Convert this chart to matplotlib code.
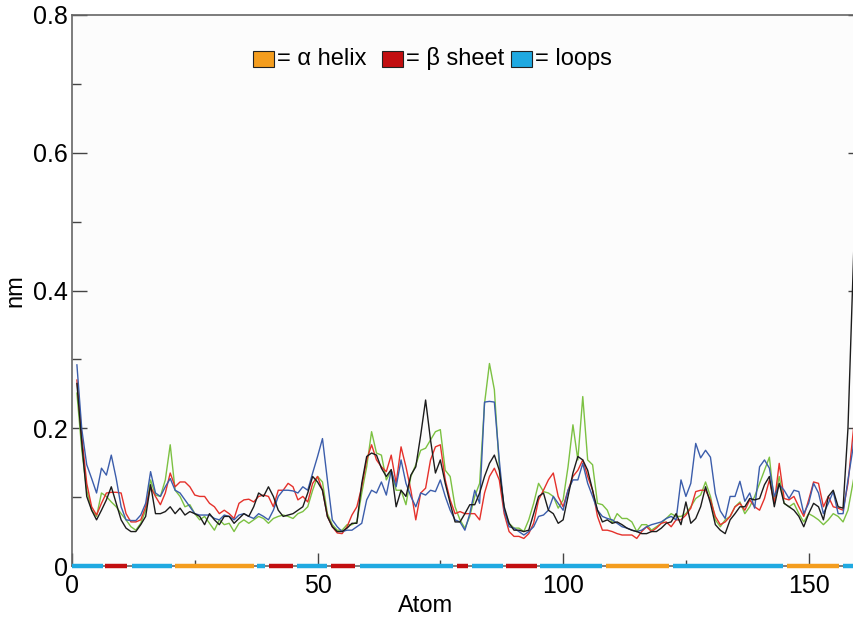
import numpy as np
import matplotlib
matplotlib.use('Agg')
import matplotlib.pyplot as plt
from matplotlib.patches import Rectangle

plt.rcParams['font.family'] = ['Liberation Sans', 'DejaVu Sans']

# residue index (atoms 1..160), fluctuation in nm for four runs
atoms = np.arange(1, 161)

blue_run = [
    0.292, 0.198, 0.147, 0.127, 0.106, 0.142, 0.132, 0.161, 0.127, 0.086,
    0.067, 0.066, 0.066, 0.074, 0.091, 0.137, 0.106, 0.101, 0.115, 0.127,
    0.110, 0.106, 0.096, 0.086, 0.076, 0.074, 0.074, 0.074, 0.069, 0.067,
    0.074, 0.072, 0.067, 0.074, 0.076, 0.072, 0.069, 0.076, 0.072, 0.067,
    0.081, 0.101, 0.110, 0.110, 0.109, 0.106, 0.115, 0.110, 0.135, 0.159,
    0.185, 0.125, 0.067, 0.057, 0.050, 0.052, 0.052, 0.057, 0.062, 0.096,
    0.110, 0.106, 0.122, 0.103, 0.139, 0.115, 0.154, 0.120, 0.101, 0.086,
    0.106, 0.103, 0.110, 0.108, 0.125, 0.101, 0.081, 0.067, 0.064, 0.052,
    0.076, 0.110, 0.091, 0.238, 0.239, 0.238, 0.154, 0.081, 0.057, 0.055,
    0.050, 0.045, 0.050, 0.057, 0.072, 0.074, 0.081, 0.101, 0.091, 0.081,
    0.110, 0.125, 0.125, 0.149, 0.120, 0.101, 0.081, 0.072, 0.069, 0.067,
    0.062, 0.057, 0.055, 0.052, 0.050, 0.052, 0.057, 0.060, 0.062, 0.064,
    0.069, 0.072, 0.067, 0.125, 0.101, 0.120, 0.178, 0.157, 0.168, 0.158,
    0.105, 0.080, 0.069, 0.101, 0.101, 0.123, 0.094, 0.106, 0.084, 0.144,
    0.154, 0.142, 0.101, 0.118, 0.110, 0.098, 0.110, 0.108, 0.076, 0.091,
    0.120, 0.106, 0.076, 0.091, 0.108, 0.076, 0.076, 0.125, 0.170, 0.250,
]

red_run = [
    0.270, 0.188, 0.120, 0.086, 0.074, 0.091, 0.106, 0.107, 0.107, 0.106,
    0.076, 0.064, 0.064, 0.067, 0.086, 0.115, 0.101, 0.089, 0.106, 0.135,
    0.115, 0.122, 0.122, 0.115, 0.103, 0.101, 0.101, 0.091, 0.086, 0.076,
    0.081, 0.076, 0.069, 0.091, 0.096, 0.097, 0.093, 0.101, 0.103, 0.101,
    0.086, 0.110, 0.110, 0.120, 0.115, 0.096, 0.101, 0.093, 0.120, 0.130,
    0.110, 0.072, 0.057, 0.048, 0.047, 0.057, 0.074, 0.086, 0.115, 0.154,
    0.176, 0.154, 0.144, 0.137, 0.161, 0.120, 0.173, 0.144, 0.110, 0.067,
    0.106, 0.113, 0.154, 0.173, 0.176, 0.125, 0.096, 0.076, 0.079, 0.076,
    0.076, 0.076, 0.067, 0.106, 0.130, 0.142, 0.125, 0.076, 0.050, 0.043,
    0.043, 0.040, 0.047, 0.062, 0.096, 0.110, 0.125, 0.135, 0.101, 0.086,
    0.110, 0.130, 0.139, 0.154, 0.130, 0.110, 0.072, 0.052, 0.052, 0.050,
    0.047, 0.045, 0.045, 0.045, 0.040, 0.050, 0.057, 0.050, 0.055, 0.062,
    0.064, 0.057, 0.067, 0.067, 0.074, 0.084, 0.108, 0.110, 0.110, 0.096,
    0.072, 0.060, 0.064, 0.072, 0.086, 0.091, 0.081, 0.096, 0.086, 0.081,
    0.098, 0.125, 0.091, 0.149, 0.098, 0.096, 0.101, 0.086, 0.072, 0.096,
    0.122, 0.120, 0.086, 0.101, 0.086, 0.084, 0.081, 0.120, 0.190, 0.260,
]

green_run = [
    0.251, 0.168, 0.110, 0.081, 0.072, 0.106, 0.101, 0.093, 0.086, 0.076,
    0.067, 0.057, 0.052, 0.062, 0.081, 0.125, 0.103, 0.101, 0.125, 0.176,
    0.110, 0.101, 0.086, 0.089, 0.076, 0.067, 0.072, 0.062, 0.052, 0.067,
    0.060, 0.062, 0.050, 0.062, 0.067, 0.062, 0.067, 0.072, 0.069, 0.062,
    0.069, 0.072, 0.074, 0.072, 0.069, 0.076, 0.079, 0.086, 0.110, 0.130,
    0.122, 0.076, 0.060, 0.052, 0.052, 0.060, 0.060, 0.064, 0.106, 0.144,
    0.195, 0.164, 0.161, 0.125, 0.139, 0.110, 0.110, 0.089, 0.130, 0.147,
    0.168, 0.171, 0.183, 0.195, 0.198, 0.139, 0.130, 0.086, 0.067, 0.055,
    0.072, 0.101, 0.120, 0.236, 0.294, 0.256, 0.144, 0.081, 0.062, 0.055,
    0.055, 0.050, 0.067, 0.091, 0.120, 0.108, 0.106, 0.101, 0.084, 0.096,
    0.144, 0.205, 0.154, 0.246, 0.154, 0.147, 0.091, 0.089, 0.081, 0.062,
    0.076, 0.069, 0.069, 0.064, 0.050, 0.060, 0.060, 0.052, 0.057, 0.062,
    0.069, 0.076, 0.072, 0.072, 0.076, 0.086, 0.098, 0.103, 0.122, 0.101,
    0.067, 0.057, 0.067, 0.072, 0.086, 0.093, 0.076, 0.086, 0.101, 0.120,
    0.139, 0.158, 0.091, 0.130, 0.091, 0.086, 0.091, 0.076, 0.064, 0.076,
    0.072, 0.067, 0.060, 0.067, 0.076, 0.072, 0.064, 0.081, 0.120, 0.160,
]

black_run = [
    0.265, 0.178, 0.101, 0.081, 0.067, 0.081, 0.096, 0.115, 0.091, 0.067,
    0.055, 0.050, 0.050, 0.060, 0.072, 0.118, 0.076, 0.076, 0.079, 0.086,
    0.076, 0.084, 0.074, 0.079, 0.076, 0.072, 0.060, 0.076, 0.067, 0.060,
    0.072, 0.072, 0.062, 0.069, 0.076, 0.072, 0.086, 0.106, 0.101, 0.115,
    0.101, 0.081, 0.072, 0.074, 0.076, 0.081, 0.086, 0.106, 0.130, 0.122,
    0.110, 0.072, 0.057, 0.050, 0.050, 0.055, 0.062, 0.062, 0.120, 0.159,
    0.164, 0.161, 0.142, 0.130, 0.140, 0.086, 0.110, 0.101, 0.132, 0.144,
    0.190, 0.241, 0.183, 0.135, 0.154, 0.120, 0.091, 0.064, 0.064, 0.076,
    0.089, 0.089, 0.106, 0.130, 0.149, 0.161, 0.139, 0.086, 0.062, 0.052,
    0.052, 0.050, 0.052, 0.076, 0.101, 0.106, 0.081, 0.076, 0.062, 0.067,
    0.101, 0.135, 0.159, 0.154, 0.139, 0.110, 0.081, 0.064, 0.067, 0.062,
    0.064, 0.060, 0.055, 0.052, 0.050, 0.047, 0.047, 0.050, 0.050, 0.055,
    0.062, 0.064, 0.076, 0.060, 0.093, 0.062, 0.069, 0.086, 0.115, 0.091,
    0.060, 0.052, 0.047, 0.067, 0.076, 0.086, 0.086, 0.098, 0.096, 0.098,
    0.118, 0.130, 0.086, 0.120, 0.091, 0.086, 0.081, 0.072, 0.057, 0.076,
    0.091, 0.086, 0.067, 0.101, 0.110, 0.086, 0.084, 0.200, 0.420, 0.640,
]

# secondary structure along the chain
ss_start = [0, 6.7, 12.2, 21, 37.7, 40.1, 45.8, 52.7, 58.7, 78.3, 81.5, 88.4, 95.3, 108.8, 122.4, 145.6, 157]
ss_end = [6.3, 11.2, 20.4, 37, 39.3, 45, 52, 57.6, 77.5, 80.6, 87.8, 94.7, 108, 121.6, 144.8, 156.2, 162]
ss_kind = ['loop', 'sheet', 'loop', 'helix', 'loop', 'sheet', 'loop', 'sheet', 'loop',
           'sheet', 'loop', 'sheet', 'loop', 'helix', 'loop', 'helix', 'loop']
ss_colors = {'helix': '#f49d1e', 'sheet': '#c20e10', 'loop': '#1fa9e1'}

W, H = 854, 617
fig = plt.figure(figsize=(W / 100, H / 100), dpi=100)
ax = fig.add_axes([72 / W, 51 / H, 790.7 / W, 551 / H])
ax.set_facecolor('#fcfcfc')

ax.plot(atoms, green_run, color='#7cc142', lw=1.0)
ax.plot(atoms, red_run, color='#e5312b', lw=1.0)
ax.plot(atoms, blue_run, color='#3b5dab', lw=1.0)
ax.plot(atoms, black_run, color='#1c1c1c', lw=1.0)

for s, e, k in zip(ss_start, ss_end, ss_kind):
    ax.plot([s, e], [0, 0], color=ss_colors[k], lw=3.2,
            solid_capstyle='butt', clip_on=False, zorder=5)

ax.set_xlim(0, 161)
ax.set_ylim(0, 0.8)

ax.set_xticks([0, 50, 100, 150])
ax.set_xticks([25, 75, 125], minor=True)
ax.set_yticks([0, 0.2, 0.4, 0.6, 0.8])
ax.set_yticklabels(['0', '0.2', '0.4', '0.6', '0.8'])
ax.set_yticks([0.1, 0.3, 0.5, 0.7], minor=True)

ax.tick_params(axis='y', which='major', direction='in', length=11, width=1.0,
               color='#444444', right=True, labelsize=18, pad=3)
ax.tick_params(axis='y', which='minor', direction='in', length=6.5, width=1.0,
               color='#444444', right=True)
ax.tick_params(axis='x', which='major', direction='in', length=9.5, width=1.0,
               color='#444444', labelsize=18, pad=6)
ax.tick_params(axis='x', which='minor', direction='in', length=4.5, width=1.0,
               color='#444444')

for side in ['left', 'top', 'right', 'bottom']:
    ax.spines[side].set_color('#666666')
    ax.spines[side].set_linewidth(1.2)

ax.set_xlabel('Atom', fontsize=17)
ax.xaxis.set_label_coords(0.4465, -0.052)
ax.set_ylabel('nm', fontsize=17)
ax.yaxis.set_label_coords(-0.058, 0.5)

# colour key at the top
key_y = 59
for px, kind, label in [(253, 'helix', '= \u03b1 helix'),
                        (382, 'sheet', '= \u03b2 sheet'),
                        (511, 'loop', '= loops')]:
    fig.patches.append(Rectangle((px / W, 1 - (key_y + 8) / H), 21 / W, 16 / H,
                                 transform=fig.transFigure, facecolor=ss_colors[kind],
                                 edgecolor='#222222', lw=0.8))
    fig.text((px + 24) / W, 1 - key_y / H, label, fontsize=17, ha='left', va='center')

fig.savefig('out.png', dpi=100)
